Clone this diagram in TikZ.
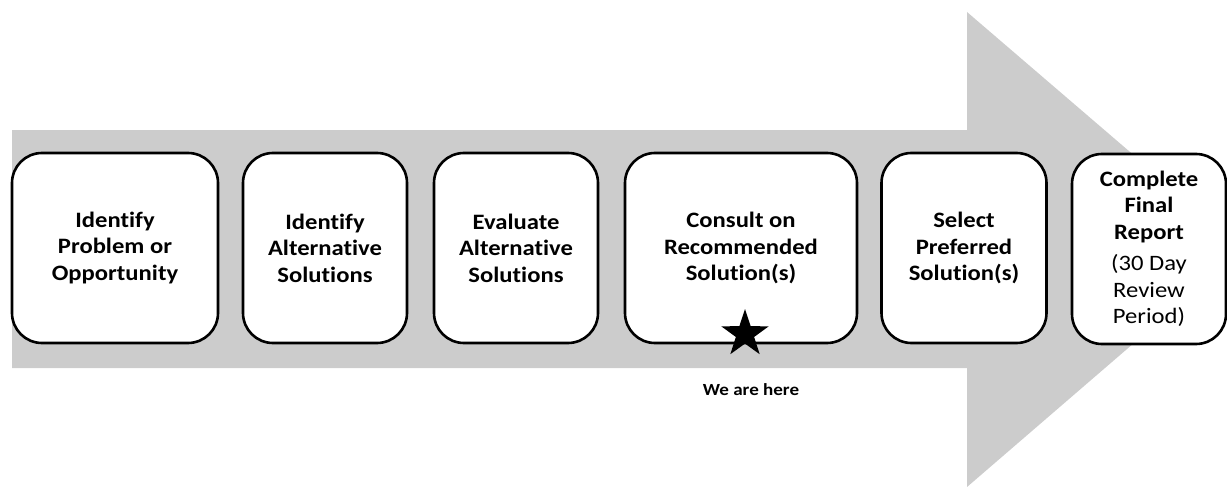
\documentclass[tikz,border=0pt]{standalone}
\usepackage{fontspec}
\setmainfont[FakeStretch=1.12, Ligatures={NoCommon}]{Carlito}
\usetikzlibrary{shapes.geometric}

\definecolor{flowgray}{RGB}{204,204,204}

\tikzset{
  stage/.style={draw=black, line width=2.6pt, fill=white, rounded corners=30pt,
    inner sep=0pt, minimum height=190pt, align=center,
    font=\fontsize{22}{26.5}\selectfont\bfseries},
}

\begin{document}
\begin{tikzpicture}[x=1pt, y=-1pt]
      \useasboundingbox (0,0) rectangle (1227,487);
      \clip (0,0) rectangle (1227,487);

      \coordinate (A) at (12,130);
      \coordinate (B) at (967,130);
      \coordinate (C) at (967,12);
      \coordinate (D) at (1243,249);
      \coordinate (E) at (967,487);
      \coordinate (F) at (967,368);
      \coordinate (G) at (12,368);

      % GRANDE FLECHE GRISE
      \fill[flowgray] (A)--(B)--(C)--(D)--(E)--(F)--(G)--cycle;

      % ETAPES
      \node[stage, minimum width=206pt] (identify) at (115,248) {Identify\\Problem or\\Opportunity};
      \node[stage, minimum width=164pt] (alternatives) at (325,248) {Identify\\Alternative\\Solutions};
      \node[stage, minimum width=164pt] (evaluate) at (516,248) {Evaluate\\Alternative\\Solutions};
      \node[stage, minimum width=232pt] (consult) at (741,248) {Consult on\\Recommended\\Solution(s)};
      \node[stage, minimum width=165pt] (select) at (964,248) {Select\\Preferred\\Solution(s)};
      \node[stage, minimum width=154pt] (report) at (1149,249) {Complete\\Final\\Report\\[5pt]{\mdseries (30 Day}\\{\mdseries Review}\\{\mdseries Period)}};

      % ETOILE
      \node[star, star points=5, star point ratio=2.6, fill=black, inner sep=0pt,
        minimum size=50pt] (here) at (745,334) {};
      \node[font=\fontsize{17}{19}\selectfont\bfseries] (label) at (751,390) {We are here};
\end{tikzpicture}
\end{document}
